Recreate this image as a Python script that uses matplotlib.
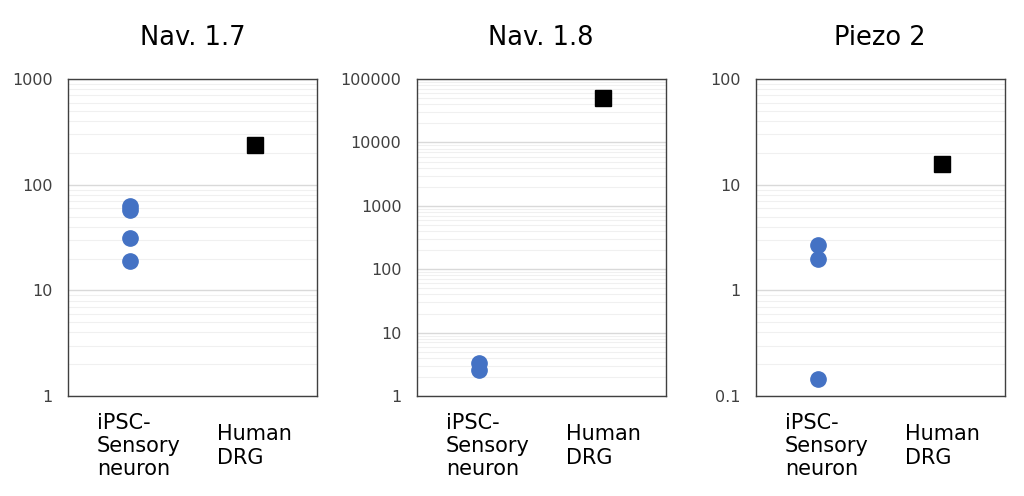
import numpy as np
import matplotlib.pyplot as plt
from matplotlib.ticker import LogLocator, FixedLocator, FixedFormatter, NullFormatter

# data
titles = ["Nav. 1.7", "Nav. 1.8", "Piezo 2"]
categories = ["iPSC-\nSensory\nneuron", "Human\nDRG"]
ipsc_values = [
    [63, 58, 31.5, 19],
    [3.3, 2.6],
    [2.7, 2.0, 0.145],
]
drg_values = [240, 50000, 15.7]
ylims = [(1, 1000), (1, 100000), (0.1, 100)]
ytick_labels = [
    ["1", "10", "100", "1000"],
    ["1", "10", "100", "1000", "10000", "100000"],
    ["0.1", "1", "10", "100"],
]

plt.rcParams['font.family'] = ['DejaVu Sans']

fig = plt.figure(figsize=(10.24, 4.96), dpi=100)
lefts = [0.0664, 0.407, 0.738]
label_shift = [0.07, 0.0]   # small nudge of the category labels, as in the original

for i in range(3):
    ax = fig.add_axes([lefts[i], 0.2016, 0.243, 0.639])
    ax.set_yscale('log')
    ax.set_ylim(*ylims[i])
    ax.set_xlim(0.5, 2.5)

    x_ipsc = np.ones(len(ipsc_values[i]))
    ax.plot(x_ipsc, ipsc_values[i], 'o', color='#4472C4', ms=11, zorder=3)
    ax.plot([2], [drg_values[i]], 's', color='black', ms=11, zorder=3)

    major = [float(v) for v in ytick_labels[i]]
    ax.yaxis.set_major_locator(FixedLocator(major))
    ax.yaxis.set_major_formatter(FixedFormatter(ytick_labels[i]))
    ax.yaxis.set_minor_locator(LogLocator(base=10, subs=np.arange(2, 10), numticks=20))
    ax.yaxis.set_minor_formatter(NullFormatter())
    ax.grid(True, which='major', axis='y', color='#d9d9d9', lw=1)
    ax.grid(True, which='minor', axis='y', color='#f0f0f0', lw=0.8)
    ax.set_axisbelow(True)

    ax.set_xticks([1, 2])
    ax.set_xticklabels([])
    ax.tick_params(axis='x', length=0)
    trans = ax.get_xaxis_transform()
    for k, cat in enumerate(categories):
        ax.text(k + 1 + label_shift[k], -0.158, cat, transform=trans, ha='center',
                va='center', multialignment='left', fontsize=15, color='black')

    ax.tick_params(axis='y', which='both', length=0, labelsize=11.5,
                   labelcolor='#404040', pad=11)

    for s in ax.spines.values():
        s.set_color('#404040')
        s.set_linewidth(1)

    ax.text(0.5, 1.13, titles[i], transform=ax.transAxes, ha='center', va='center',
            fontsize=18.5, color='black')

fig.savefig('out.png', dpi=100)
